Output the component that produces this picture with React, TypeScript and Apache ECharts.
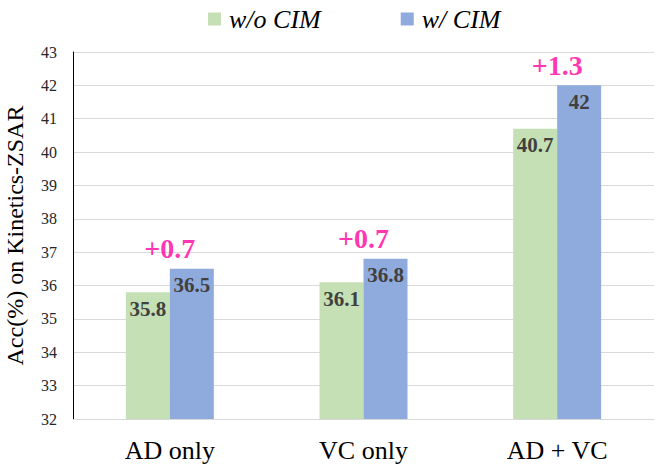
import React, { useEffect, useRef } from "react";
import * as echarts from "echarts";

const categories = ["AD only", "VC only", "AD + VC"];
const withoutCIM = [35.8, 36.1, 40.7];
const withCIM = [36.5, 36.8, 42];
const deltaLabels = ["+0.7", "+0.7", "+1.3"];
const seriesNames = ["w/o CIM", "w/ CIM"];

const FONT = "Liberation Serif";

export default function App() {
  const ref = useRef<HTMLDivElement>(null);
  useEffect(() => {
    if (!ref.current) return;
    const chart = echarts.init(ref.current, undefined, { renderer: "svg" });
    chart.setOption({
      animation: false,
      textStyle: { fontFamily: FONT },
      legend: {
        left: 208,
        top: 6,
        padding: 0,
        itemWidth: 13,
        itemHeight: 13,
        itemGap: 80,
        icon: "rect",
        data: seriesNames,
        textStyle: {
          fontFamily: FONT,
          fontSize: 26,
          fontStyle: "italic",
          color: "#000",
          padding: [0, 0, 0, 3],
        },
      },
      grid: { left: 73, right: 11, top: 52, bottom: 51, containLabel: false, outerBoundsMode: "none" },
      xAxis: {
        type: "category",
        data: categories,
        axisLine: { show: true, lineStyle: { color: "#D9D9D9", width: 1 } },
        axisTick: { show: false },
        axisLabel: { fontFamily: FONT, fontSize: 26, color: "#000", margin: 18 },
      },
      yAxis: {
        type: "value",
        min: 32,
        max: 43,
        interval: 1,
        name: "Acc(%) on Kinetics-ZSAR",
        nameLocation: "middle",
        nameGap: 46,
        nameTextStyle: { fontFamily: FONT, fontSize: 24, color: "#000" },
        axisLine: { show: true, lineStyle: { color: "#000", width: 1 } },
        axisTick: { show: false },
        axisLabel: { fontFamily: FONT, fontSize: 16, color: "#262626", margin: 16 },
        splitLine: { show: true, lineStyle: { color: "#D9D9D9", width: 1 } },
      },
      series: [
        {
          name: seriesNames[0],
          type: "bar",
          data: withoutCIM,
          barWidth: 44,
          barGap: "0%",
          itemStyle: { color: "#C5E0B4" },
          label: {
            show: true,
            position: "insideTop",
            distance: 6,
            fontFamily: FONT,
            fontSize: 21,
            fontWeight: "bold",
            color: "#404040",
          },
        },
        {
          name: seriesNames[1],
          type: "bar",
          data: withCIM,
          barWidth: 44,
          barGap: "0%",
          itemStyle: { color: "#8FAADC" },
          label: {
            show: true,
            position: "insideTop",
            distance: 6,
            fontFamily: FONT,
            fontSize: 21,
            fontWeight: "bold",
            color: "#404040",
          },
        },
        {
          name: "delta",
          type: "scatter",
          data: withCIM,
          symbolSize: 0,
          silent: true,
          label: {
            show: true,
            position: "top",
            distance: 6,
            formatter: (p: any) => deltaLabels[p.dataIndex],
            fontFamily: FONT,
            fontSize: 28,
            fontWeight: "bold",
            color: "#FF00A0",
          },
        },
      ],
    });
    return () => chart.dispose();
  }, []);
  return (
    <div
      ref={ref}
      style={{ position: "fixed", left: 0, top: 0, width: 665, height: 470, background: "#fff" }}
    />
  );
}
